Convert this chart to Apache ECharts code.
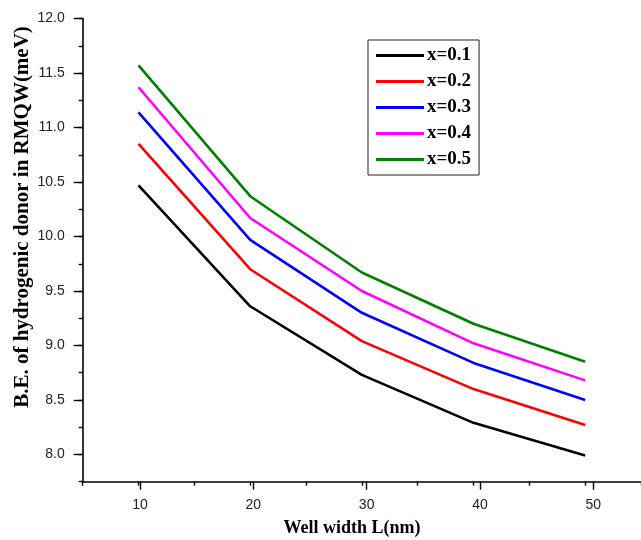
<!DOCTYPE html>
<html lang="en" style="height: 100%">

<head>
    <meta charset="utf-8" />
    <script src="https://cdn.jsdelivr.net/npm/echarts@6.0.0/dist/echarts.min.js"></script>
</head>

<body style="height: 100%; margin: 0; background: #fff">
    <div id="container" style="width: 641px;height: 540px;"></div>
    <script type="text/javascript">
        // well width L (nm)
        var wellWidth = [10, 20, 30, 40, 50];
        // binding energy (meV) for each Al fraction x
        var be_x01 = [10.47, 9.36, 8.73, 8.29, 7.99];
        var be_x02 = [10.85, 9.70, 9.04, 8.60, 8.27];
        var be_x03 = [11.14, 9.97, 9.30, 8.84, 8.50];
        var be_x04 = [11.37, 10.17, 9.50, 9.02, 8.68];
        var be_x05 = [11.57, 10.37, 9.67, 9.20, 8.85];
        var seriesNames = ['x=0.1', 'x=0.2', 'x=0.3', 'x=0.4', 'x=0.5'];
        var colors = ['#000000', '#ff0000', '#0000ff', '#ff00ff', '#008000'];

        var dom = document.getElementById('container');
        var myChart = echarts.init(dom, null, {
            renderer: 'canvas'
        });

        function pairs(ys) {
            return wellWidth.map(function (x, i) {
                return [x, ys[i]];
            });
        }

        var allData = [be_x01, be_x02, be_x03, be_x04, be_x05];
        var series = allData.map(function (d, i) {
            return {
                name: seriesNames[i],
                type: 'line',
                xAxisIndex: 0,
                yAxisIndex: 0,
                showSymbol: false,
                symbol: 'none',
                color: colors[i],
                lineStyle: { width: 2.6, color: colors[i] },
                data: pairs(d)
            };
        });

        var tickFont = { fontFamily: 'Liberation Sans', fontSize: 14, color: '#222' };

        var option = {
            backgroundColor: '#ffffff',
            animation: false,
            grid: [
                // frame grid: axis lines and minor ticks
                { left: 82.7, right: -8.5, top: 18.6, bottom: 58.3 },
                // label grid: major ticks and labels
                { left: 140, right: 47.7, top: 18.6, bottom: 85.5 }
            ],
            legend: {
                orient: 'vertical',
                left: 368,
                top: 40,
                padding: [6, 8, 6, 8],
                borderColor: '#222',
                borderWidth: 1,
                itemWidth: 48,
                itemHeight: 3,
                itemGap: 7,
                icon: 'rect',
                textStyle: {
                    fontFamily: 'Liberation Serif',
                    fontWeight: 'bold',
                    fontSize: 19,
                    lineHeight: 19,
                    color: '#000',
                    padding: [0, 0, 0, -2]
                },
                data: seriesNames
            },
            xAxis: [{
                    type: 'value',
                    gridIndex: 0,
                    min: 5,
                    max: 55,
                    interval: 5,
                    axisLine: { show: true, onZero: false, lineStyle: { color: '#000', width: 1.6 } },
                    axisTick: { show: true, length: 4, lineStyle: { color: '#000', width: 1.4 } },
                    axisLabel: { show: false },
                    splitLine: { show: false }
                },
                {
                    type: 'value',
                    gridIndex: 1,
                    min: 10,
                    max: 50,
                    interval: 10,
                    offset: 27.2,
                    axisLine: { show: false },
                    axisTick: { show: true, length: 8, lineStyle: { color: '#000', width: 1.4 } },
                    axisLabel: Object.assign({ margin: 16 }, tickFont),
                    splitLine: { show: false }
                }
            ],
            yAxis: [{
                    type: 'value',
                    gridIndex: 0,
                    min: 7.75,
                    max: 12,
                    interval: 0.25,
                    axisLine: { show: true, onZero: false, lineStyle: { color: '#000', width: 1.6 } },
                    axisTick: { show: true, length: 4, lineStyle: { color: '#000', width: 1.4 } },
                    axisLabel: { show: false },
                    splitLine: { show: false }
                },
                {
                    type: 'value',
                    gridIndex: 1,
                    min: 8,
                    max: 12,
                    interval: 0.5,
                    offset: 57.3,
                    axisLine: { show: false },
                    axisTick: { show: true, length: 9, lineStyle: { color: '#000', width: 1.4 } },
                    axisLabel: Object.assign({
                        margin: 18,
                        formatter: function (v) {
                            return v.toFixed(1);
                        }
                    }, tickFont),
                    splitLine: { show: false }
                }
            ],
            graphic: [{
                    type: 'text',
                    x: 352,
                    y: 528,
                    style: {
                        text: 'Well width L(nm)',
                        font: 'bold 18px "Liberation Serif"',
                        fill: '#000',
                        textAlign: 'center',
                        textVerticalAlign: 'middle'
                    }
                },
                {
                    type: 'text',
                    x: 23,
                    y: 217,
                    rotation: Math.PI / 2,
                    style: {
                        text: 'B.E. of hydrogenic donor in RMQW(meV)',
                        font: 'bold 21px "Liberation Serif"',
                        fill: '#000',
                        textAlign: 'center',
                        textVerticalAlign: 'middle'
                    }
                }
            ],
            series: series
        };

        if (option && typeof option === 'object') {
            myChart.setOption(option);
        }

        window.addEventListener('resize', myChart.resize);
    </script>
</body>

</html>
